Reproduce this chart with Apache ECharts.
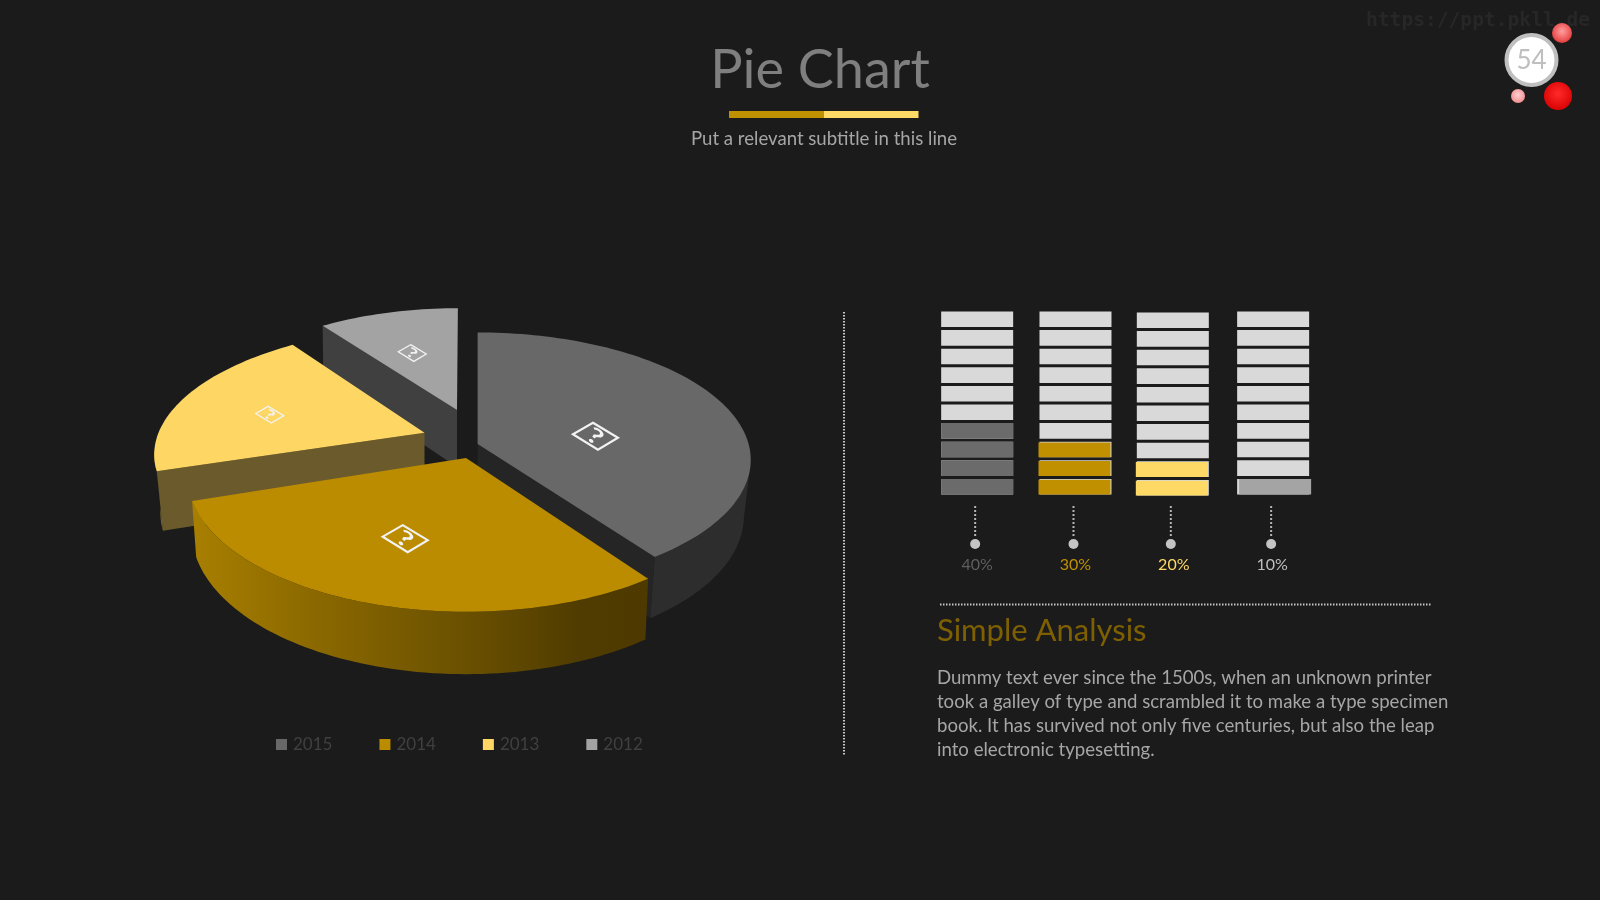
<!DOCTYPE html>
<html>
<head>
<meta charset="utf-8">
<title>Pie Chart</title>
<style>
  html, body { margin: 0; padding: 0; background: #1b1b1c; }
  #chart { width: 1600px; height: 900px; }
</style>
<script src="https://cdn.jsdelivr.net/npm/echarts@6/dist/echarts.min.js"></script>
</head>
<body>
<div id="chart"></div>
<script>
// Chart values
const years = ['2015', '2014', '2013', '2012'];
const shares = [40, 30, 20, 10];
const shareLabels = ['40%', '30%', '20%', '10%'];

// Colours
const topColors = ['#686868', '#bb8b00', '#fdd663', '#a3a3a3'];
const labelColors = ['#5f5f5f', '#bf9000', '#ffd966', '#bfbfbf'];
const cellColors = ['#6c6b6b', '#c09000', '#ffd966', '#a5a4a5'];
const FONT = 'Lato, "Open Sans", sans-serif';

// Perspective view of each exploded slice: apex on screen, radii, foreshortening,
// shear, wall height and how much the lower rim pulls in.
const sliceViews = [
  { ax: 477.6, ay: 444, a: 271, b: 125.5, p: 0.125, sk: 0, h: 55, s: 0.975, iconR: 0.44, iconAt: 82.4, icon: 1, z: 3,
    radialWall: '#252525', rimFill: '#2d2d2d', rimFrom: 98 },
  { ax: 466,   ay: 458, a: 276, b: 133, p: 0.135, sk: 0,  h: 54, s: 0.985, iconR: 0.6, iconAt: 200, icon: 1, z: 4,
    rimFill: { type: 'linear', x: 0, y: 0, x2: 1, y2: 0, colorStops: [
      { offset: 0, color: '#a87f00' }, { offset: 0.25, color: '#8d6a00' },
      { offset: 0.55, color: '#6f5400' }, { offset: 0.85, color: '#503c00' }, { offset: 1, color: '#4e3a00' }] } },
  { ax: 424.5, ay: 432.7, a: 266, b: 120, p: 0.13, sk: 13, h: 57, s: 0.977, iconR: 0.62, iconAt: 284, icon: 0.62, z: 2,
    radialWall: '#6b5a2b', rimFill: '#7c6a30', rimTo: 262 },
  { ax: 457,   ay: 410, a: 254, b: 115, p: 0.13,  sk: 1,  h: 57, s: 0.995, iconR: 0.56, iconAt: 340, icon: 0.62, z: 1,
    radialWall: '#404040' }
];

// Project a point given by radius and clockwise angle from 12 o'clock onto the slice's view
function project(view, r, deg, lower) {
  const t = deg * Math.PI / 180;
  const u = r * Math.sin(t), v = r * Math.cos(t);
  const w = 1 + view.p * v;
  let x = (view.a * u + view.sk * v) / w;
  let y = -view.b * v / w;
  if (lower) {
    x *= view.s;
    y += view.h / w;
  }
  return [view.ax + x, view.ay + y];
}

function arc(view, from, to, lower) {
  const pts = [];
  const n = Math.max(2, Math.ceil(Math.abs(to - from) / 1.5));
  for (let i = 0; i <= n; i++) pts.push(project(view, 1, from + (to - from) * i / n, lower));
  return pts;
}

function renderSlice(index, params, api) {
  const view = sliceViews[index];
  const start = api.value(1) * 3.6;
  const end = start + api.value(0) * 3.6;
  const kids = [];

  if (view.radialWall) {
    const edge = index === 0 ? end : start;
    kids.push({ type: 'polygon', shape: { points: [
      project(view, 1, edge), project(view, 0, edge), project(view, 0, edge, true), project(view, 1, edge, true)
    ] }, style: { fill: view.radialWall } });
  }
  if (view.rimFill) {
    const from = view.rimFrom !== undefined ? view.rimFrom : start;
    const to = view.rimTo !== undefined ? view.rimTo : end;
    kids.push({ type: 'polygon', shape: {
      points: arc(view, from, to).concat(arc(view, to, from, true))
    }, style: { fill: view.rimFill } });
  }
  kids.push({ type: 'polygon', shape: {
    points: [project(view, 0, start)].concat(arc(view, start, end))
  }, style: { fill: topColors[index] } });

  // Help badge lying flat on the slice
  const c = project(view, view.iconR, view.iconAt);
  const k = view.icon;
  kids.push({ type: 'polygon', shape: { points: [
    [c[0] - 2 * k, c[1] - 14 * k], [c[0] + 23 * k, c[1] + 1 * k],
    [c[0] + 3 * k, c[1] + 13 * k], [c[0] - 22 * k, c[1] - 2.5 * k]
  ] }, style: { fill: 'none', stroke: '#f2f2f2', lineWidth: k < 1 ? 1.3 : 2.2 } });
  kids.push({ type: 'text', x: c[0], y: c[1], rotation: -0.6, scaleX: 1.1, scaleY: 0.72,
    style: { text: '?', fill: '#f2f2f2', font: 'bold ' + Math.round(30 * k) + 'px ' + FONT,
      align: 'center', verticalAlign: 'middle' } });

  return { type: 'group', children: kids };
}

// Each pie series carries its share and the running total before it
let running = 0;
const pieSeries = years.map((name, i) => {
  const item = [shares[i], running];
  running += shares[i];
  return {
    type: 'custom', name, coordinateSystem: 'none', silent: true, animation: false,
    z: sliceViews[i].z, itemStyle: { color: topColors[i] },
    renderItem: (params, api) => renderSlice(i, params, api),
    data: [item]
  };
});

// Ten-cell columns: filled cells = share / 10, plus the dotted stem to the label
const CELLS = 10;
const columnNudge = [[0, 0], [0, 0], [-1, 1], [1, 0]];
const fillNudge = [[0, 0], [-1, 0.8], [-1, 0.8], [2, 0]];
const barSeries = {
  type: 'custom', coordinateSystem: 'cartesian2d', silent: true, animation: false, z: 5,
  encode: { x: 0, y: 1 },
  renderItem(params, api) {
    const col = api.value(0);
    const filled = api.value(1) / CELLS;
    const [nx, ny] = columnNudge[col];
    const [fx, fy] = fillNudge[col];
    const kids = [];
    for (let j = 0; j < CELLS; j++) {
      const lo = api.coord([col, j]);
      const hi = api.coord([col, j + 1]);
      const box = { x: lo[0] - 36 + nx, y: hi[1] + 1.5 + ny, width: 72, height: lo[1] - hi[1] - 3 };
      kids.push({ type: 'rect', shape: box, style: { fill: '#d9d9d9' } });
      if (j < filled) {
        kids.push({ type: 'rect',
          shape: { x: box.x + fx, y: box.y + fy, width: box.width, height: box.height - fy },
          style: { fill: cellColors[col] } });
      }
    }
    const foot = api.coord([col, 0]);
    kids.push({ type: 'line', shape: { x1: foot[0] - 2 + nx, y1: foot[1] + 10, x2: foot[0] - 2 + nx, y2: foot[1] + 42 },
      style: { stroke: '#b5b5b5', lineWidth: 2, lineDash: [2, 2] } });
    kids.push({ type: 'circle', shape: { cx: foot[0] - 2 + nx, cy: foot[1] + 48, r: 5 }, style: { fill: '#c4c4c4' } });
    return { type: 'group', children: kids };
  },
  data: shares.map((v, i) => [i, v])
};

// Page furniture
const text = (t, x, y, size, fill, extra) => ({
  type: 'text', x, y, silent: true,
  style: { text: t, fill, font: (extra && extra.font) || (size + 'px ' + FONT), align: (extra && extra.align) || 'left',
    verticalAlign: (extra && extra.verticalAlign) || 'middle', lineHeight: extra && extra.lineHeight }
});
const dotted = (x1, y1, x2, y2) => ({
  type: 'line', silent: true, shape: { x1, y1, x2, y2 },
  style: { stroke: '#c6c6c6', lineWidth: 2, lineDash: [1.5, 1.5] }
});
const ball = (cx, cy, r, stops) => ({
  type: 'circle', silent: true, shape: { cx, cy, r },
  style: { fill: { type: 'radial', x: 0.5, y: 0.42, r: 0.62, colorStops: stops } }
});

const graphics = [
  text('https://ppt.pkll.de', 1366, 21, 24, '#272727', { font: 'bold 19.6px "DejaVu Sans Mono", monospace' }),
  text('Pie Chart', 820, 71, 54, '#7f7f7f', { align: 'center' }),
  { type: 'rect', silent: true, shape: { x: 729, y: 111, width: 95, height: 7 }, style: { fill: '#bf9000' } },
  { type: 'rect', silent: true, shape: { x: 824, y: 111, width: 94.5, height: 7 }, style: { fill: '#ffd966' } },
  text('Put a relevant subtitle in this line', 824, 139, 18.6, '#a6a6a6', { align: 'center' }),
  dotted(844, 312, 844, 756),
  dotted(940, 604.5, 1431, 604.5),
  text('Simple Analysis', 937, 631, 31, '#7f6000', { }),
  text('Dummy text ever since the 1500s, when an unknown printer\n' +
       'took a galley of type and scrambled it to make a type specimen\n' +
       'book. It has survived not only five centuries, but also the leap\n' +
       'into electronic typesetting.', 937, 666, 18.6, '#a6a6a6', { verticalAlign: 'top', lineHeight: 24 }),
  ball(1562, 33, 10, [{ offset: 0, color: '#ff9f9f' }, { offset: 1, color: '#e53535' }]),
  ball(1558, 96, 14, [{ offset: 0, color: '#ff2a2a' }, { offset: 1, color: '#d80000' }]),
  ball(1518, 96, 7, [{ offset: 0, color: '#ffcfcf' }, { offset: 1, color: '#f08a8a' }]),
  { type: 'circle', silent: true, shape: { cx: 1531.5, cy: 60 , r: 25 },
    style: { fill: '#ffffff', stroke: '#bfbfbf', lineWidth: 4 } },
  text('54', 1531.5, 61, 26, '#bfbfbf', { align: 'center' })
];

const chart = echarts.init(document.getElementById('chart'), null, { renderer: 'canvas' });
chart.setOption({
  backgroundColor: '#1b1b1c',
  animation: false,
  legend: {
    data: years, left: 271, top: 731, icon: 'rect', itemWidth: 11, itemHeight: 11, itemGap: 47,
    selectedMode: false,
    textStyle: { color: '#404040', fontFamily: FONT, fontSize: 17, padding: [0, 0, 0, 1] }
  },
  grid: { left: 928, width: 393.3, top: 310, height: 186 },
  xAxis: {
    type: 'category',
    data: shareLabels.map((value, i) => ({ value, textStyle: { color: labelColors[i] } })),
    axisLine: { show: false }, axisTick: { show: false },
    axisLabel: { margin: 61, fontSize: 16, fontFamily: FONT }
  },
  yAxis: { type: 'value', min: 0, max: CELLS, interval: CELLS, show: false, splitLine: { show: false } },
  graphic: graphics,
  series: pieSeries.concat([barSeries])
});
</script>
</body>
</html>
